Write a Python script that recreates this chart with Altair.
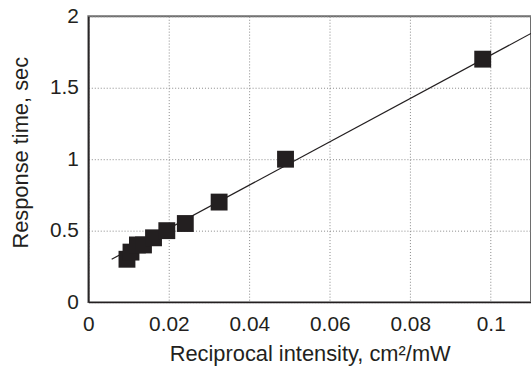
import altair as alt
import pandas as pd

# Measured points (reciprocal intensity, response time)
recip_intensity = [0.0096, 0.0106, 0.0122, 0.0137, 0.0162, 0.0195, 0.0241, 0.0325, 0.049, 0.098]
response_time = [0.30, 0.35, 0.40, 0.40, 0.45, 0.50, 0.55, 0.70, 1.00, 1.70]

# Fitted straight line endpoints
fit_x = [0.0058, 0.11]
fit_y = [0.30, 1.88]

x_ticks = [0, 0.02, 0.04, 0.06, 0.08, 0.1]
y_ticks = [0, 0.5, 1, 1.5, 2]

pts = pd.DataFrame({"x": recip_intensity, "y": response_time})
fit = pd.DataFrame({"x": fit_x, "y": fit_y})

FONT = "Liberation Sans"
INK = "#231f20"
GRID = "#888888"

xscale = alt.Scale(domain=[0, 0.11], nice=False, zero=False)
yscale = alt.Scale(domain=[0, 2], nice=False)

xaxis = alt.Axis(
    title="Reciprocal intensity, cm²/mW",
    values=x_ticks, format="~g", tickSize=0, labelPadding=12,
    labelFontSize=21, titleFontSize=22, labelFont=FONT, titleFont=FONT,
    labelColor=INK, titleColor=INK, titleFontWeight="normal",
    titleY=59, titleBaseline="alphabetic",
    grid=True, gridDash=[1, 2], gridColor=GRID, gridWidth=1,
    domainColor=INK, domainWidth=1.5, labelFlush=False,
)
yaxis = alt.Axis(
    title="Response time, sec",
    values=y_ticks, format="~g", tickSize=0, labelPadding=10,
    labelFontSize=21, titleFontSize=22, labelFont=FONT, titleFont=FONT,
    labelColor=INK, titleColor=INK, titleFontWeight="normal",
    titleX=-61, titleY=137, titleBaseline="alphabetic", titleAlign="center",
    grid=True, gridDash=[1, 2], gridColor=GRID, gridWidth=1,
    domainColor=INK, domainWidth=1.5, labelFlush=False,
)

line = alt.Chart(fit).mark_line(color=INK, strokeWidth=1.2, clip=True).encode(
    x=alt.X("x:Q", scale=xscale, axis=xaxis),
    y=alt.Y("y:Q", scale=yscale, axis=yaxis),
)

squares = alt.Chart(pts).mark_square(size=289, color=INK, opacity=1).encode(
    x=alt.X("x:Q", scale=xscale),
    y=alt.Y("y:Q", scale=yscale),
)

chart = (
    alt.layer(line, squares)
    .properties(
        width=446,
        height=288,
        autosize=alt.AutoSizeParams(type="none"),
        padding={"left": 89, "top": 15, "right": 0, "bottom": 69},
        background="white",
    )
    .configure_view(stroke="#6e6e6e", strokeWidth=2)
)

chart.save("out.html", embed_options={"renderer": "svg", "actions": False})
